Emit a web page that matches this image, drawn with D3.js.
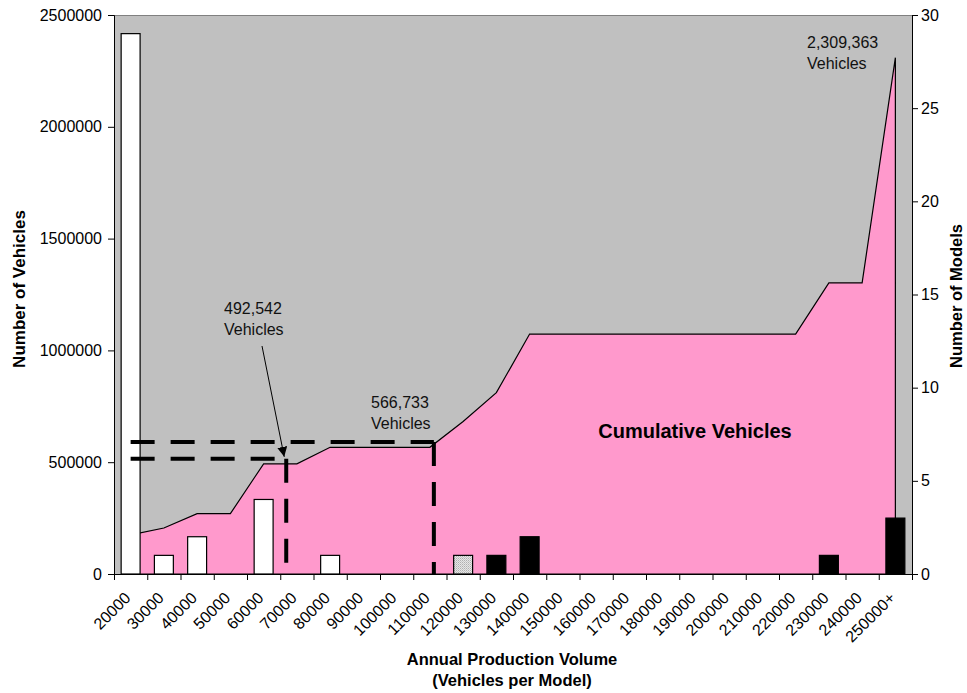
<!DOCTYPE html>
<html>
<head>
<meta charset="utf-8">
<script src="https://cdn.jsdelivr.net/npm/d3@7/dist/d3.min.js"></script>
<style>
  body { margin: 0; background: #fff; }
  svg { display: block; font-family: "Liberation Sans", Arial, sans-serif; }
</style>
</head>
<body>
<svg id="chart" width="967" height="693"></svg>
<script>
// Production-volume bins (vehicles per model)
const categories = ["20000","30000","40000","50000","60000","70000","80000","90000","100000",
  "110000","120000","130000","140000","150000","160000","170000","180000","190000","200000",
  "210000","220000","230000","240000","250000+"];

// Number of models falling in each bin (right axis)
const models = [29, 1, 2, 0, 4, 0, 1, 0, 0, 0, 1, 1, 2, 0, 0, 0, 0, 0, 0, 0, 0, 1, 0, 3];

// Cumulative vehicles up to each bin (left axis)
const cumulative = [174900, 205700, 270000, 270000, 492542, 492542, 566733, 566733, 566733,
  566733, 682000, 811000, 1073000, 1073000, 1073000, 1073000, 1073000, 1073000, 1073000,
  1073000, 1073000, 1302000, 1302000, 2309363];

const leftTicks = [0, 500000, 1000000, 1500000, 2000000, 2500000];
const rightTicks = [0, 5, 10, 15, 20, 25, 30];

// Reference guide levels (vehicles) and where they stop along the category axis
const guideLevels = [515000, 590000];
const guideStops = [5.18, 9.62];

// Callouts: which cumulative point each one reports
const callouts = [
  { index: 4, x: 224, y: 314 },
  { index: 6, x: 371, y: 408 },
  { index: 23, x: 807, y: 48 }
];

const plotLeft = 114, plotRight = 912, plotTop = 15, plotBottom = 574;

const svg = d3.select("#chart");

const x = d3.scaleBand().domain(categories).range([plotLeft, plotRight]).padding(0);
const xi = d3.scaleLinear().domain([0, categories.length]).range([plotLeft, plotRight]);
const yL = d3.scaleLinear().domain([0, 2500000]).range([plotBottom, plotTop]);
const yR = d3.scaleLinear().domain([0, 30]).range([plotBottom, plotTop]);
const bw = x.bandwidth();
const cx = c => x(c) + bw / 2;

// hatch pattern for the 120000 bin
const defs = svg.append("defs");
const pat = defs.append("pattern").attr("id", "dots").attr("width", 2).attr("height", 2)
  .attr("patternUnits", "userSpaceOnUse");
pat.append("rect").attr("width", 2).attr("height", 2).attr("fill", "#e6e6e6");
pat.append("rect").attr("width", 1).attr("height", 1).attr("fill", "#b0b0b0");
pat.append("rect").attr("x", 1).attr("y", 1).attr("width", 1).attr("height", 1).attr("fill", "#c8c8c8");
defs.append("marker").attr("id", "arrow").attr("viewBox", "0 0 10 10")
  .attr("refX", 10).attr("refY", 5).attr("markerWidth", 10).attr("markerHeight", 10)
  .attr("markerUnits", "userSpaceOnUse").attr("orient", "auto")
  .append("path").attr("d", "M0,0 L10,5 L0,10 Z").attr("fill", "#000");

// plot background
svg.append("rect").attr("x", plotLeft).attr("y", plotTop).attr("width", plotRight - plotLeft)
  .attr("height", plotBottom - plotTop).attr("fill", "#C0C0C0");
svg.append("line").attr("x1", plotLeft).attr("x2", plotRight)
  .attr("y1", plotTop + 0.5).attr("y2", plotTop + 0.5).attr("stroke", "#808080");

// cumulative area
const area = d3.area()
  .x((d, i) => cx(categories[i]))
  .y0(yL(0))
  .y1(d => yL(d));
svg.append("path").datum(cumulative).attr("d", area)
  .attr("fill", "#FF99CC").attr("stroke", "#000").attr("stroke-width", 1.2)
  .attr("stroke-linejoin", "miter");

// model-count bars
const barW = bw * 0.57;
function barFill(c) {
  const v = parseInt(c, 10);
  if (c.endsWith("+") || v > 120000) return "#000";
  if (v === 120000) return "url(#dots)";
  return "#fff";
}
svg.append("g").selectAll("rect")
  .data(categories.map((c, i) => ({ c, v: models[i] })).filter(d => d.v > 0))
  .join("rect")
  .attr("x", d => cx(d.c) - barW / 2)
  .attr("y", d => yR(d.v))
  .attr("width", barW)
  .attr("height", d => yR(0) - yR(d.v))
  .attr("fill", d => barFill(d.c))
  .attr("stroke", "#000").attr("stroke-width", 1.2);

// dashed guides
const guides = svg.append("g").attr("stroke", "#000").attr("stroke-width", 4)
  .attr("stroke-dasharray", "24,16").attr("fill", "none");
guideLevels.forEach((lv, k) => {
  guides.append("line").attr("x1", xi(0.5)).attr("x2", xi(guideStops[k]))
    .attr("y1", yL(lv)).attr("y2", yL(lv));
  guides.append("line").attr("x1", xi(guideStops[k])).attr("x2", xi(guideStops[k]))
    .attr("y1", yL(lv)).attr("y2", yL(0));
});

// arrow from the first callout down to the lower guide
svg.append("line").attr("x1", 262).attr("y1", 346)
  .attr("x2", xi(guideStops[0]) - 2).attr("y2", yL(guideLevels[0]) - 2)
  .attr("stroke", "#000").attr("stroke-width", 1).attr("marker-end", "url(#arrow)");

// callout texts
const fmt = d3.format(",");
callouts.forEach(c => {
  const t = svg.append("text").attr("x", c.x).attr("y", c.y).attr("font-size", 16).attr("fill", "#111");
  t.append("tspan").attr("x", c.x).text(fmt(cumulative[c.index]));
  t.append("tspan").attr("x", c.x).attr("dy", 21).text("Vehicles");
});

svg.append("text").attr("x", 695).attr("y", 438).attr("text-anchor", "middle")
  .attr("font-size", 20).attr("font-weight", "bold").attr("fill", "#000")
  .text("Cumulative Vehicles");

// axes
const axisL = svg.append("g").attr("transform", `translate(${plotLeft},0)`)
  .call(d3.axisLeft(yL).tickValues(leftTicks).tickSize(6).tickPadding(6).tickFormat(d3.format("d")));
const axisR = svg.append("g").attr("transform", `translate(${plotRight},0)`)
  .call(d3.axisRight(yR).tickValues(rightTicks).tickSize(6).tickPadding(3));
const axisB = svg.append("g").attr("transform", `translate(0,${plotBottom})`)
  .call(d3.axisBottom(xi).tickValues(d3.range(0, categories.length + 1)).tickSize(6)
    .tickSizeOuter(0).tickFormat(() => ""));
[axisL, axisR].forEach(g => {
  g.selectAll("text").attr("font-size", 16)
    .attr("font-family", "Liberation Sans, Arial, sans-serif").attr("fill", "#000");
  g.selectAll("line,path").attr("stroke", "#000");
});
axisB.selectAll("line,path").attr("stroke", "#000");

// rotated category labels
svg.append("g").selectAll("text").data(categories).join("text")
  .attr("transform", d => `translate(${cx(d) + 1},${plotBottom + 25}) rotate(-45)`)
  .attr("text-anchor", "end").attr("font-size", 16).attr("fill", "#000")
  .text(d => d);

// axis titles
const xt = svg.append("text").attr("text-anchor", "middle").attr("font-size", 16.5)
  .attr("font-weight", "bold").attr("fill", "#000");
xt.append("tspan").attr("x", 512).attr("y", 665).text("Annual Production Volume");
xt.append("tspan").attr("x", 512).attr("y", 686).text("(Vehicles per Model)");

svg.append("text").attr("transform", "translate(25,289) rotate(-90)")
  .attr("text-anchor", "middle").attr("font-size", 17).attr("font-weight", "bold")
  .text("Number of Vehicles");
svg.append("text").attr("transform", "translate(962,296) rotate(-90)")
  .attr("text-anchor", "middle").attr("font-size", 16.5).attr("font-weight", "bold")
  .text("Number of Models");
</script>
</body>
</html>
